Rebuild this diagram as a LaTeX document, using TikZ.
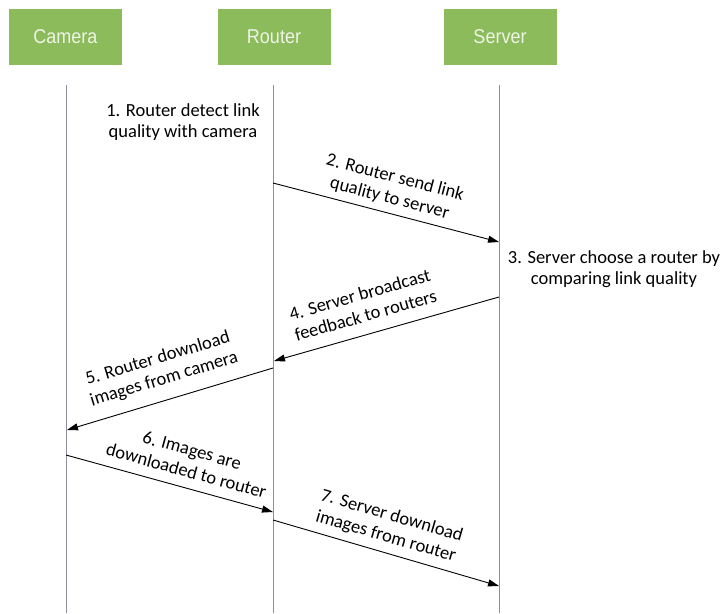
\documentclass[tikz,border=0pt]{standalone}
\usepackage{fontspec}
\setmainfont{Carlito}
\newfontfamily\boxfont[FakeStretch=0.9]{Liberation Sans}
\usetikzlibrary{arrows.meta}
\definecolor{boxgreen}{HTML}{8CBB5C}
\definecolor{boxtext}{HTML}{EEF4E6}
\definecolor{lifegray}{HTML}{8E8C9E}
\tikzset{
  actor/.style={fill=boxgreen, draw=none, minimum width=113pt, minimum height=56pt,
    inner sep=0pt, text=boxtext, font=\boxfont\fontsize{20}{22}\selectfont},
  lifeline/.style={draw=lifegray, line width=0.9pt},
  msg/.style={draw=black, line width=0.9pt, -{Triangle[length=11pt,width=7pt]}},
  note/.style={align=center, font=\fontsize{18.5}{21.5}\selectfont, inner sep=0pt},
}
\begin{document}
\begin{tikzpicture}[x=1pt, y=-1pt]
  \useasboundingbox[fill=white] (0,0) rectangle (722,613);

  % participants
  \node[actor] (cam) at (65.5,37) {Camera};
  \node[actor] (rtr) at (274,37) {Router};
  \node[actor] (srv) at (500,37) {Server};

  % lifelines
  \coordinate (camTop) at (66,85);   \coordinate (camBot) at (66,613);
  \coordinate (rtrTop) at (273,85);  \coordinate (rtrBot) at (273,613);
  \coordinate (srvTop) at (499,85);  \coordinate (srvBot) at (499,613);
  \draw[lifeline] (camTop) -- (camBot);
  \draw[lifeline] (rtrTop) -- (rtrBot);
  \draw[lifeline] (srvTop) -- (srvBot);

  % message anchors on the lifelines
  \coordinate (r2) at (273,183);  \coordinate (s2) at (499,242);
  \coordinate (s4) at (499,297);  \coordinate (r4) at (274,361);
  \coordinate (r5) at (273,368);  \coordinate (c5) at (67,430);
  \coordinate (c6) at (66,455);   \coordinate (r6) at (273,512);
  \coordinate (r7) at (273,520);  \coordinate (s7) at (499,586);

  % step 1 and step 3 notes
  \node[note] (n1) at (183,122) {1. Router detect link\\quality with camera};
  \node[note] (n3) at (614,269) {3. Server choose a router by\\comparing link quality};

  % messages
  \draw[msg] (r2) -- node[note, sloped, pos=0.5, above=6pt] {2. Router send link\\quality to server} (s2);
  \draw[msg] (s4) -- node[note, sloped, pos=0.57, above=12pt] {4. Server broadcast\\feedback to routers} (r4);
  \draw[msg] (r5) -- node[note, sloped, pos=0.5, above=12pt] {5. Router download\\images from camera} (c5);
  \draw[msg] (c6) -- node[note, sloped, pos=0.56, above=10pt] {6. Images are\\downloaded to router} (r6);
  \draw[msg] (r7) -- node[note, sloped, pos=0.48, above=7pt] {7. Server download\\images from router} (s7);
\end{tikzpicture}
\end{document}
